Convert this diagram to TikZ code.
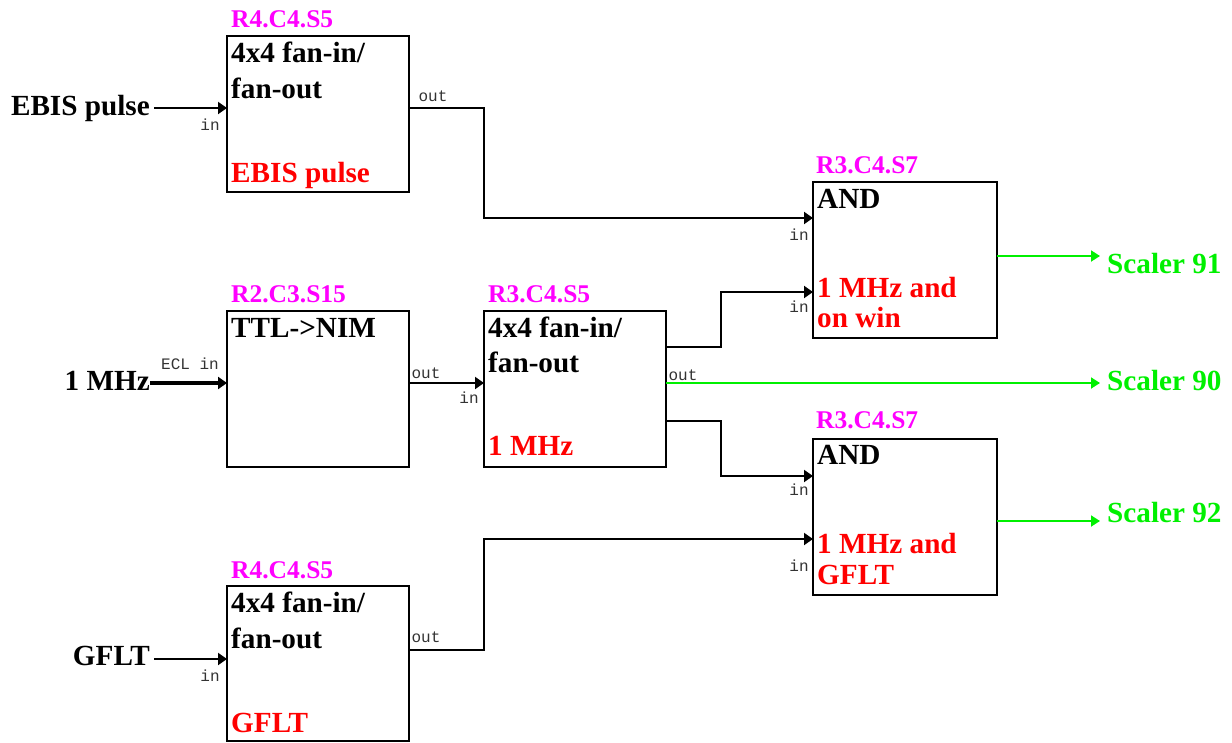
\documentclass[tikz,border=0pt]{standalone}
\usepackage{fontspec}
\setmainfont{Liberation Serif}
\newfontfamily\portfont{Liberation Mono}
\usetikzlibrary{arrows.meta}
\definecolor{lime}{RGB}{0,240,0}
\definecolor{mag}{RGB}{255,0,255}
\begin{document}
\begin{tikzpicture}[x=1pt,y=-1pt,
  box/.style={draw=black,line width=2pt,minimum width=#1,minimum height=156pt,anchor=north west,inner sep=0,outer sep=0},
  box/.default=182pt,
  big/.style={font=\fontsize{29.2}{30}\selectfont\bfseries,inner sep=0,anchor=base west},
  magl/.style={font=\fontsize{25.5}{26}\selectfont\bfseries,text=mag,inner sep=0,anchor=base west},
  redl/.style={big,text=red},
  grnl/.style={big,text=lime},
  inl/.style={big,anchor=base east},
  port/.style={font=\portfont\fontsize{16}{16}\selectfont,text=black!80,inner sep=0},
  wire/.style={line width=2pt,black},
  tip/.style={-{Triangle[length=9pt,width=12pt]}},
  gwire/.style={line width=1.8pt,lime,-{Triangle[length=9pt,width=11pt]}}
]
\useasboundingbox (0,0) rectangle (1232,742);

% boxes
\node[box] (A) at (227,36) {};
\node[box] (B) at (227,311) {};
\node[box] (C) at (484,311) {};
\node[box,minimum height=155pt] (D) at (227,586) {};
\node[box=184pt] (E) at (813,182) {};
\node[box=184pt] (F) at (813,439) {};

% box texts
\node[magl] (Am) at (231,27) {R4.C4.S5};
\node[big] (A1) at (231,62) {4x4 fan-in/};
\node[big] (A2) at (231,98) {fan-out};
\node[redl] (A3) at (231,182) {EBIS pulse};

\node[magl] (Bm) at (231,302) {R2.C3.S15};
\node[big] (B1) at (231,337) {TTL->NIM};

\node[magl] (Cm) at (488,302) {R3.C4.S5};
\node[big] (C1) at (488,337) {4x4 fan-in/};
\node[big] (C2) at (488,372) {fan-out};
\node[redl] (C3) at (488,455) {1 MHz};

\node[magl] (Dm) at (231,578) {R4.C4.S5};
\node[big] (D1) at (231,612) {4x4 fan-in/};
\node[big] (D2) at (231,648) {fan-out};
\node[redl] (D3) at (231,732) {GFLT};

\node[magl] (Em) at (816,173) {R3.C4.S7};
\node[big] (E1) at (817,208) {AND};
\node[redl] (E2) at (817,297) {1 MHz and};
\node[redl] (E3) at (817,327) {on win};

\node[magl] (Fm) at (816,428) {R3.C4.S7};
\node[big] (F1) at (817,464) {AND};
\node[redl] (F2) at (817,553) {1 MHz and};
\node[redl] (F3) at (817,584) {GFLT};

% external signals
\node[inl] (ebis) at (150,115) {EBIS pulse};
\node[inl] (mhz) at (150,390) {1 MHz};
\node[inl] (gflt) at (150,665) {GFLT};
\node[grnl] (s91) at (1107,273) {Scaler 91};
\node[grnl] (s90) at (1107,390) {Scaler 90};
\node[grnl] (s92) at (1107,522) {Scaler 92};

% port coordinates
\coordinate (ebisE) at (154,108);
\coordinate (Ain) at (227,108);
\coordinate (Aout) at (409,108);
\coordinate (mhzE) at (150,383);
\coordinate (Bin) at (227,383);
\coordinate (Bout) at (409,383);
\coordinate (Cin) at (484,383);
\coordinate (Cout1) at (666,347);
\coordinate (Cout2) at (666,383);
\coordinate (Cout3) at (666,421);
\coordinate (gfltE) at (154,659);
\coordinate (Din) at (227,659);
\coordinate (Dout) at (409,650);
\coordinate (Ein1) at (813,218);
\coordinate (Ein2) at (813,292);
\coordinate (Eout) at (997,256);
\coordinate (Fin1) at (813,476);
\coordinate (Fin2) at (813,539);
\coordinate (Fout) at (997,521);
\coordinate (s91W) at (1100,256);
\coordinate (s90W) at (1100,383);
\coordinate (s92W) at (1100,521);

% port labels
\node[port] (pA1) at (210,125) {in};
\node[port] (pA2) at (433,96) {out};
\node[port] (pB1) at (190,364) {ECL in};
\node[port] (pB2) at (426,373) {out};
\node[port] (pC1) at (469,398) {in};
\node[port] (pC2) at (683,375) {out};
\node[port] (pE1) at (799,235) {in};
\node[port] (pE2) at (799,307) {in};
\node[port] (pF1) at (799,490) {in};
\node[port] (pF2) at (799,566) {in};
\node[port] (pD1) at (210,676) {in};
\node[port] (pD2) at (426,637) {out};

% wires
\draw[wire,tip] (ebisE) -- (Ain);
\draw[line width=3.8pt,-{Triangle[length=9pt,width=12pt]}] (mhzE) -- (Bin);
\draw[wire,tip] (gfltE) -- (Din);
\draw[wire,tip] (Aout) -- (Aout -| Cin) |- (Ein1);
\draw[wire,tip] (Bout) -- (Cin);
\draw[wire,tip] (Cout1) -- (721,347) |- (Ein2);
\draw[wire,tip] (Cout3) -- (721,421) |- (Fin1);
\draw[wire,tip] (Dout) -- (Dout -| Cin) |- (Fin2);
\draw[gwire] (Cout2) -- (s90W);
\draw[gwire] (Eout) -- (s91W);
\draw[gwire] (Fout) -- (s92W);
\end{tikzpicture}
\end{document}
